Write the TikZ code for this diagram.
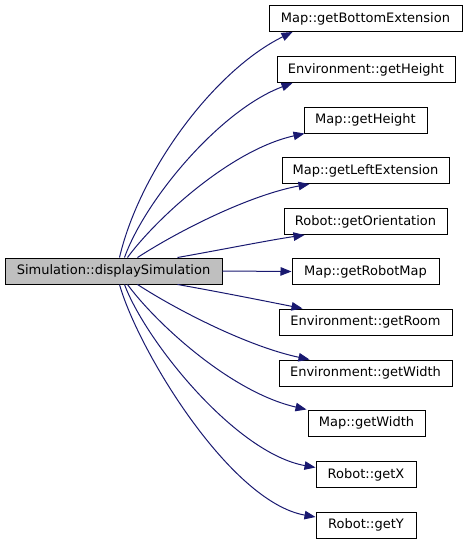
\documentclass[tikz,border=0pt]{standalone}
\usepackage{fontspec}
\setmainfont{DejaVu Sans}
\usetikzlibrary{arrows.meta,calc}
\definecolor{edgeblue}{HTML}{191970}
\definecolor{srcgray}{HTML}{BFBFBF}
\begin{document}
\begin{tikzpicture}[x=1pt,y=-1pt,
  fn/.style={draw=black,line width=1pt,fill=white,inner sep=0pt,minimum height=26pt,
    font=\fontsize{13}{15}\selectfont},
  edge/.style={draw=edgeblue,line width=1pt,-{Triangle[length=11pt,width=8.5pt]}}]
\useasboundingbox (0,0) rectangle (467,544);
\node[fn,fill=srcgray,minimum width=217pt] (src) at (113.5,271) {Simulation::displaySimulation};
\node[fn,minimum width=193pt] (t1) at (365.5,18.5) {Map::getBottomExtension};
\node[fn,minimum width=178pt] (t2) at (366,69.5) {Environment::getHeight};
\node[fn,minimum width=123pt] (t3) at (365.5,120) {Map::getHeight};
\node[fn,minimum width=167pt] (t4) at (365.5,170.5) {Map::getLeftExtension};
\node[fn,minimum width=163pt] (t5) at (365.5,221.5) {Robot::getOrientation};
\node[fn,minimum width=147pt] (t6) at (365.5,271.5) {Map::getRobotMap};
\node[fn,minimum width=173pt] (t7) at (365.5,322) {Environment::getRoom};
\node[fn,minimum width=173pt] (t8) at (365.5,373) {Environment::getWidth};
\node[fn,minimum width=117pt] (t9) at (366.5,423) {Map::getWidth};
\node[fn,minimum width=100pt] (t10) at (366,474.5) {Robot::getX};
\node[fn,minimum width=100pt] (t11) at (366,525) {Robot::getY};

\draw[edge] ($(src.north west)+(115,0)$) .. controls (140,170) and (215,70) .. ($(t1.south west)+(24,0)$);
\draw[edge] ($(src.north west)+(120,0)$) .. controls (145,200) and (220,110) .. ($(t2.south west)+(16,0)$);
\draw[edge] ($(src.north west)+(123,0)$) .. controls (155,220) and (230,150) .. ($(t3.south west)+(1,0)$);
\draw[edge] ($(src.north west)+(133,0)$) .. controls (180,230) and (250,195) .. ($(t4.south west)+(28,0)$);
\draw[edge] ($(src.north west)+(173,0)$) .. controls (220,250) and (270,240) .. ($(t5.south west)+(21,0)$);
\draw[edge] (src.east) -- (t6.west);
\draw[edge] ($(src.south west)+(173,0)$) .. controls (220,292) and (270,302) .. ($(t7.north west)+(24,0)$);
\draw[edge] ($(src.south west)+(133,0)$) .. controls (180,312) and (250,347) .. ($(t8.north west)+(31,0)$);
\draw[edge] ($(src.south west)+(123,0)$) .. controls (155,322) and (230,392) .. ($(t9.north west)+(-1,0)$);
\draw[edge] ($(src.south west)+(120,0)$) .. controls (145,340) and (235,453) .. ($(t10.west)+(0,-7)$);
\draw[edge] ($(src.south west)+(115,0)$) .. controls (138,350) and (230,502) .. ($(t11.west)+(0,-8)$);
\end{tikzpicture}
\end{document}
